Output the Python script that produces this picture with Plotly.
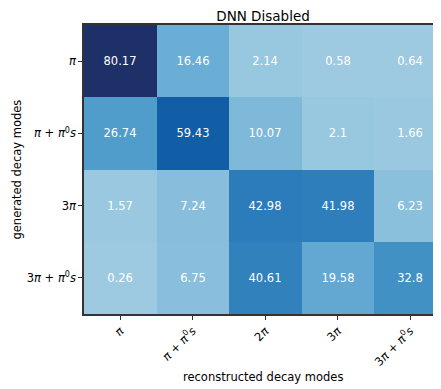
import plotly.graph_objects as go

reco_modes = ["<i>π</i>", "<i>π</i> + <i>π</i><sup>0</sup><i>s</i>", "2<i>π</i>", "3<i>π</i>",
              "3<i>π</i> + <i>π</i><sup>0</sup><i>s</i>"]
gen_modes = ["<i>π</i>", "<i>π</i> + <i>π</i><sup>0</sup><i>s</i>", "3<i>π</i>",
             "3<i>π</i> + <i>π</i><sup>0</sup><i>s</i>"]

row_pi = [80.17, 16.46, 2.14, 0.58, 0.64]
row_pi_pi0 = [26.74, 59.43, 10.07, 2.1, 1.66]
row_3pi = [1.57, 7.24, 42.98, 41.98, 6.23]
row_3pi_pi0 = [0.26, 6.75, 40.61, 19.58, 32.8]

z = [row_pi, row_pi_pi0, row_3pi, row_3pi_pi0]
text = [[f"{v:g}" for v in r] for r in z]

OFF = 8  # page body margin
W, H = 441 - OFF, 389 - OFF
L, T = 84 - OFF, 25 - OFF
B = H - (314 - OFF)
cell_w = 72.5
plot_w = W - L
plot_h = H - T - B

blues = [
    [0.0, "rgb(247,251,255)"], [0.125, "rgb(222,235,247)"], [0.25, "rgb(198,219,239)"],
    [0.375, "rgb(158,202,225)"], [0.5, "rgb(107,174,214)"], [0.625, "rgb(66,146,198)"],
    [0.75, "rgb(33,113,181)"], [0.875, "rgb(10,84,160)"], [1.0, "rgb(30,48,104)"],
]

fig = go.Figure(go.Heatmap(
    z=z, x=list(range(5)), y=list(range(4)),
    text=text, texttemplate="%{text}",
    textfont=dict(color="white", size=11.5, family="DejaVu Sans"),
    colorscale=blues, zmin=-47.7, zmax=80.17, showscale=False,
    xgap=0, ygap=0, hoverinfo="skip",
))

fig.update_layout(
    width=W, height=H,
    margin=dict(l=L, r=0, t=T, b=B, autoexpand=False),
    paper_bgcolor="white", plot_bgcolor="white",
    font=dict(family="DejaVu Sans", size=11, color="black"),
    title=dict(text="DNN Disabled", x=(263 - OFF) / W, xref="container", xanchor="center",
               y=1 - (16 - OFF) / H, yref="container", yanchor="middle",
               font=dict(size=13.5, color="black")),
    xaxis=dict(
        range=[-0.5, -0.5 + plot_w / cell_w], tickvals=list(range(5)), ticktext=reco_modes,
        tickangle=-45, ticks="outside", ticklen=4, tickwidth=1, tickcolor="#333",
        showgrid=False, zeroline=False, showline=True, linecolor="#333", linewidth=1.5,
        mirror=True, automargin=False, tickfont=dict(size=11.5),
    ),
    yaxis=dict(
        range=[3.5, -0.5], tickvals=list(range(4)), ticktext=gen_modes,
        ticks="outside", ticklen=4, tickwidth=1, tickcolor="#333",
        showgrid=False, zeroline=False, showline=True, linecolor="#333", linewidth=1.5,
        mirror=True, automargin=False, tickfont=dict(size=11.5),
    ),
    annotations=[
        dict(text="reconstructed decay modes", xref="paper", yref="paper",
             x=(263 - 84) / plot_w, y=-(377 - 314) / plot_h,
             xanchor="center", yanchor="middle", showarrow=False, font=dict(size=11.5)),
        dict(text="generated decay modes", xref="paper", yref="paper",
             x=-(84 - 16) / plot_w, y=0.5, textangle=-90,
             xanchor="center", yanchor="middle", showarrow=False, font=dict(size=11.5)),
    ],
)

fig.write_html("out.html")
